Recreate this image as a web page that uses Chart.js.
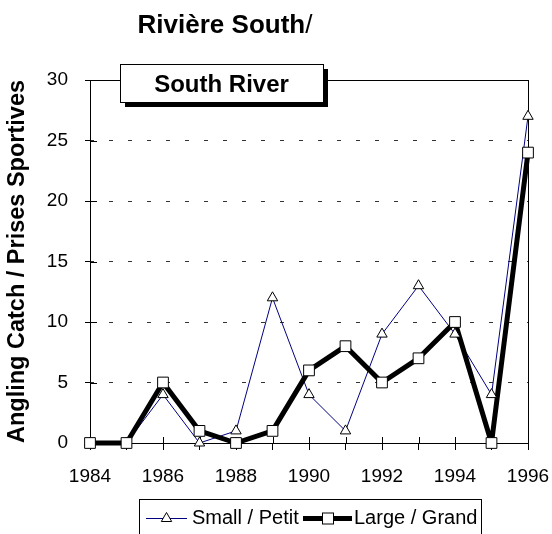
<!DOCTYPE html>
<html>
<head>
<meta charset="utf-8">
<script src="https://cdn.jsdelivr.net/npm/chart.js@4/dist/chart.umd.min.js"></script>
<style>
html,body{margin:0;padding:0;background:#fff;}
canvas{display:block;}
</style>
</head>
<body>
<canvas id="c" width="552" height="534"></canvas>
<script>
const years = [1984,1985,1986,1987,1988,1989,1990,1991,1992,1993,1994,1995,1996];
const small = [0,0,4,0,1,12,4,1,9,13,9,4,27];
const large = [0,0,5,1,0,1,6,8,5,7,10,0,24];
const yTicks = [0,5,10,15,20,25,30];
const xLabels = ['1984','1986','1988','1990','1992','1994','1996'];
const titleMain = 'Rivière South';
const titleSlash = '/';
const titleBox = 'South River';
const yTitle = 'Angling Catch / Prises Sportives';
const seriesNames = ['Small / Petit', 'Large / Grand'];

const FONT = "'Liberation Sans', Arial, sans-serif";
const pts = arr => years.map((yr, i) => ({x: yr, y: arr[i]}));

const decor = {
  id: 'decor',
  beforeDatasetsDraw(chart) {
    const {ctx, chartArea: a, scales} = chart;
    ctx.save();
    ctx.strokeStyle = '#000';
    ctx.lineWidth = 1;
    ctx.strokeRect(Math.round(a.left) + 0.5, Math.round(a.top) + 0.5, Math.round(a.right - a.left), Math.round(a.bottom - a.top));
    ctx.beginPath();
    scales.x.ticks.forEach(t => {
      const x = Math.round(scales.x.getPixelForValue(t.value)) + 0.5;
      ctx.moveTo(x, a.bottom - 6); ctx.lineTo(x, a.bottom);
    });
    scales.y.ticks.forEach(t => {
      const y = Math.round(scales.y.getPixelForValue(t.value)) + 0.5;
      ctx.moveTo(a.left, y); ctx.lineTo(a.left + 7, y);
    });
    ctx.stroke();
    ctx.restore();
  },
  afterDraw(chart) {
    const {ctx} = chart;
    ctx.save();
    ctx.fillStyle = '#000';
    ctx.textBaseline = 'alphabetic';
    ctx.font = 'bold 26px ' + FONT;
    const w1 = ctx.measureText(titleMain).width;
    ctx.font = '26px ' + FONT;
    const w2 = ctx.measureText(titleSlash).width;
    const tx = 225 - (w1 + w2) / 2;
    ctx.font = 'bold 26px ' + FONT;
    ctx.fillText(titleMain, tx, 33);
    ctx.font = '26px ' + FONT;
    ctx.fillText(titleSlash, tx + w1, 33);
    ctx.fillStyle = '#000';
    ctx.fillRect(125, 69, 203, 38);
    ctx.fillStyle = '#fff';
    ctx.fillRect(120, 64, 203, 38);
    ctx.strokeStyle = '#000';
    ctx.lineWidth = 1;
    ctx.strokeRect(120.5, 64.5, 203, 38);
    ctx.fillStyle = '#000';
    ctx.font = 'bold 24px ' + FONT;
    ctx.textAlign = 'center';
    ctx.fillText(titleBox, 221.5, 92);
    ctx.textAlign = 'left';
    ctx.strokeStyle = '#000';
    ctx.lineWidth = 1;
    ctx.strokeRect(139.5, 499.5, 342, 40);
    const ly = 518.5;
    ctx.strokeStyle = '#000080';
    ctx.lineWidth = 1;
    ctx.beginPath(); ctx.moveTo(146, ly); ctx.lineTo(187, ly); ctx.stroke();
    const r = 6, cx = 166.5, cy = ly;
    ctx.beginPath();
    ctx.moveTo(cx, cy - r);
    ctx.lineTo(cx + r * Math.sin(Math.PI * 2 / 3), cy - r * Math.cos(Math.PI * 2 / 3));
    ctx.lineTo(cx + r * Math.sin(Math.PI * 4 / 3), cy - r * Math.cos(Math.PI * 4 / 3));
    ctx.closePath();
    ctx.fillStyle = '#fff'; ctx.fill();
    ctx.strokeStyle = '#000'; ctx.stroke();
    ctx.fillStyle = '#000';
    ctx.font = '20px ' + FONT;
    ctx.fillText(seriesNames[0], 192, 524);
    ctx.strokeStyle = '#000';
    ctx.lineWidth = 5;
    ctx.beginPath(); ctx.moveTo(303, ly); ctx.lineTo(352, ly); ctx.stroke();
    ctx.lineWidth = 1;
    ctx.fillStyle = '#fff';
    ctx.fillRect(322.5, ly - 5.5, 11, 11);
    ctx.strokeRect(322.5, ly - 5.5, 11, 11);
    ctx.fillStyle = '#000';
    ctx.fillText(seriesNames[1], 354, 524);
    ctx.restore();
  }
};

new Chart(document.getElementById('c'), {
  type: 'line',
  data: {
    datasets: [
      {label: seriesNames[1] + ' pts', data: pts(large), showLine: false, order: 0, clip: false,
       pointStyle: 'rect', pointRadius: 7.6, pointBackgroundColor: '#fff', pointBorderColor: '#000', pointBorderWidth: 1},
      {label: seriesNames[0] + ' pts', data: pts(small), showLine: false, order: 1, clip: false,
       pointStyle: 'triangle', pointRadius: 6, pointBackgroundColor: '#fff', pointBorderColor: '#000', pointBorderWidth: 1},
      {label: seriesNames[1], data: pts(large), order: 2, clip: false, borderColor: '#000', borderWidth: 5,
       pointRadius: 0, tension: 0, fill: false, borderJoinStyle: 'bevel'},
      {label: seriesNames[0], data: pts(small), order: 3, clip: false, borderColor: '#000080', borderWidth: 1,
       pointRadius: 0, tension: 0, fill: false}
    ]
  },
  options: {
    responsive: false,
    animation: false,
    layout: {padding: {top: 80, right: 24, bottom: 51, left: 0}},
    plugins: {legend: {display: false}, tooltip: {enabled: false}, title: {display: false}},
    scales: {
      x: {
        type: 'linear', min: 1984, max: 1996,
        afterFit: s => { s.height = 40; s.paddingLeft = 0; s.paddingRight = 0; },
        border: {display: false},
        grid: {drawOnChartArea: false, drawTicks: true, tickLength: 7, tickColor: '#000', color: '#000'},
        ticks: {
          stepSize: 1, autoSkip: false, maxRotation: 0, padding: 15, color: '#000',
          font: {family: FONT, size: 19},
          callback: v => xLabels.includes(String(v)) ? String(v) : ''
        }
      },
      y: {
        min: 0, max: 30,
        afterFit: s => { s.width = 90; s.paddingTop = 0; s.paddingBottom = 0; },
        border: {display: false, dash: [4, 15]},
        grid: {
          drawOnChartArea: true, drawTicks: true, tickLength: 5, tickColor: '#000', tickBorderDash: [],
          color: ctx => (ctx.tick && (ctx.tick.value === 0 || ctx.tick.value === 30)) ? 'rgba(0,0,0,0)' : '#333'
        },
        ticks: {
          stepSize: 5, padding: 17, color: '#000',
          font: {family: FONT, size: 19},
          callback: v => yTicks.includes(v) ? String(v) : ''
        },
        title: {display: true, text: yTitle, color: '#000', font: {family: FONT, size: 23.5, weight: 'bold'}, padding: {top: 3, bottom: 0}}
      }
    }
  },
  plugins: [decor]
});
</script>
</body>
</html>
